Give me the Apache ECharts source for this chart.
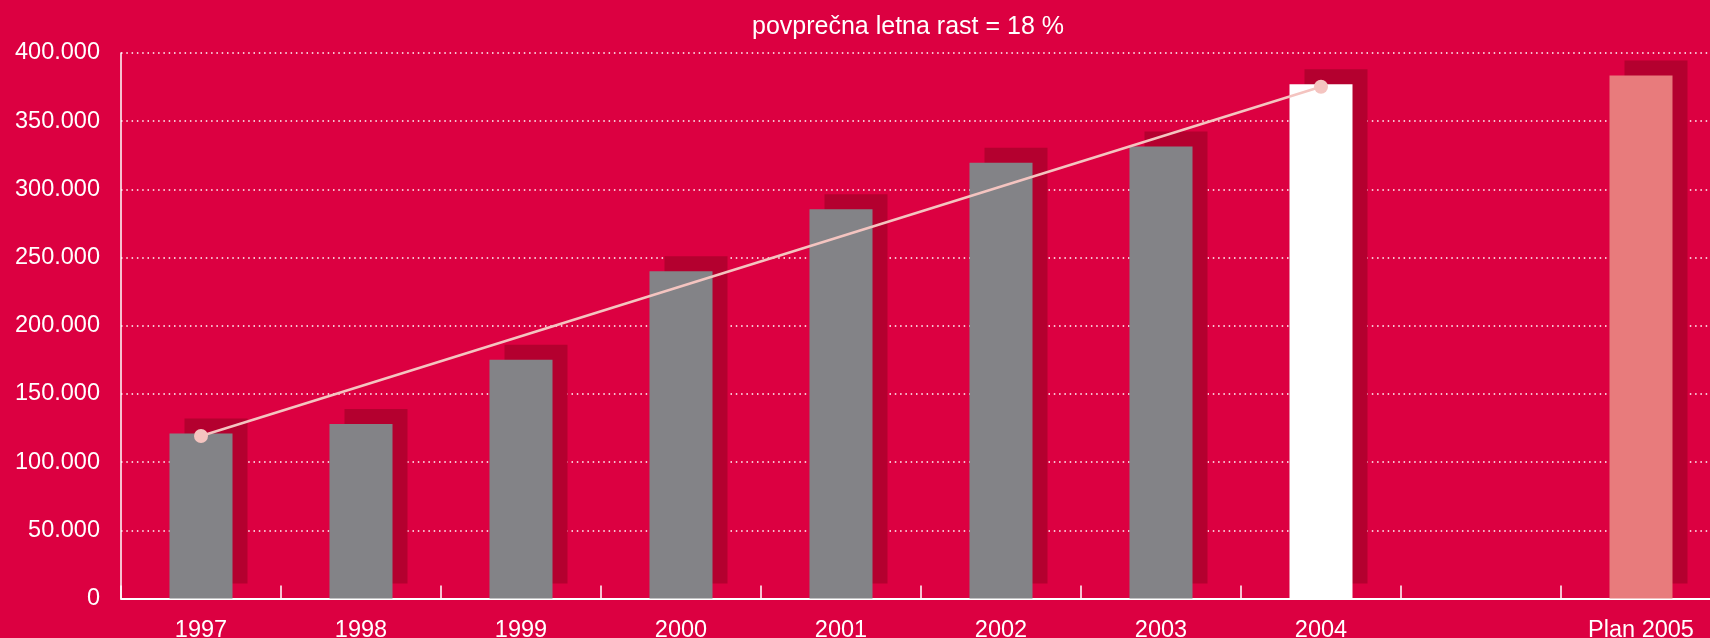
<!DOCTYPE html>
<html>
<head>
<meta charset="utf-8">
<script src="https://cdn.jsdelivr.net/npm/echarts@6/dist/echarts.min.js"></script>
<style>
  html, body { margin: 0; padding: 0; background: #dc0041; }
  #chart { width: 1710px; height: 638px; }
</style>
</head>
<body>
<div id="chart"></div>
<script>
const categories = ['1997', '1998', '1999', '2000', '2001', '2002', '2003', '2004', '', 'Plan 2005']
const barValues = [121000, 128000, 175000, 240000, 285500, 319500, 331500, 377000, null, 383500]
const trendValues = [119200, null, null, null, null, null, null, 375300, null, null]
const yTicks = [0, 50000, 100000, 150000, 200000, 250000, 300000, 350000, 400000]
const titleText = 'povprečna letna rast = 18 %'

const barColors = ['#838387', '#838387', '#838387', '#838387', '#838387', '#838387', '#838387', '#ffffff', null, '#e87b7c']

const fontFamily = '"Liberation Sans", Arial, sans-serif'

const chart = echarts.init(document.getElementById('chart'))

const fmt = (v) => v === 0 ? '0' : String(v).replace(/\B(?=(\d{3})+(?!\d))/g, '.')

chart.setOption({
  backgroundColor: '#dc0041',
  animation: false,
  title: {
    text: titleText,
    left: 903,
    top: 10,
    textAlign: 'center',
    textStyle: {
      color: '#ffffff',
      fontFamily: fontFamily,
      fontWeight: 'normal',
      fontSize: 25
    }
  },
  grid: {
    left: 121,
    width: 1600,
    top: 53,
    bottom: 39.5,
    containLabel: false,
    outerBoundsMode: 'none'
  },
  xAxis: {
    type: 'category',
    data: categories,
    boundaryGap: true,
    axisLine: {
      show: true,
      lineStyle: { color: '#ffffff', width: 2 }
    },
    axisTick: {
      show: true,
      inside: true,
      length: 13,
      lineStyle: { color: '#ffffff', width: 1.5 }
    },
    axisLabel: {
      color: '#ffffff',
      fontFamily: fontFamily,
      fontSize: 23.5,
      margin: 20,
      interval: 0
    },
    splitLine: { show: false }
  },
  yAxis: {
    type: 'value',
    min: yTicks[0],
    max: yTicks[yTicks.length - 1],
    interval: yTicks[1] - yTicks[0],
    axisLine: {
      show: true,
      lineStyle: { color: '#ffffff', width: 1.5 }
    },
    axisTick: { show: false },
    axisLabel: {
      color: '#ffffff',
      fontFamily: fontFamily,
      fontSize: 23.5,
      margin: 21,
      formatter: fmt
    },
    splitLine: {
      show: true,
      showMinLine: false,
      lineStyle: {
        color: '#ffffff',
        width: 1.5,
        type: [1.5, 3.8]
      }
    }
  },
  series: [
    {
      type: 'bar',
      data: barValues.map((v, i) => ({
        value: v,
        itemStyle: { color: barColors[i] }
      })),
      barWidth: 63,
      itemStyle: {
        shadowColor: '#b4002f',
        shadowBlur: 0,
        shadowOffsetX: 15,
        shadowOffsetY: -15
      },
      z: 2
    },
    {
      type: 'line',
      data: trendValues,
      connectNulls: true,
      symbol: 'circle',
      symbolSize: 14,
      showSymbol: true,
      lineStyle: { color: '#f4c4c0', width: 2.5 },
      itemStyle: { color: '#f4c4c0' },
      z: 3
    }
  ]
})
</script>
</body>
</html>
